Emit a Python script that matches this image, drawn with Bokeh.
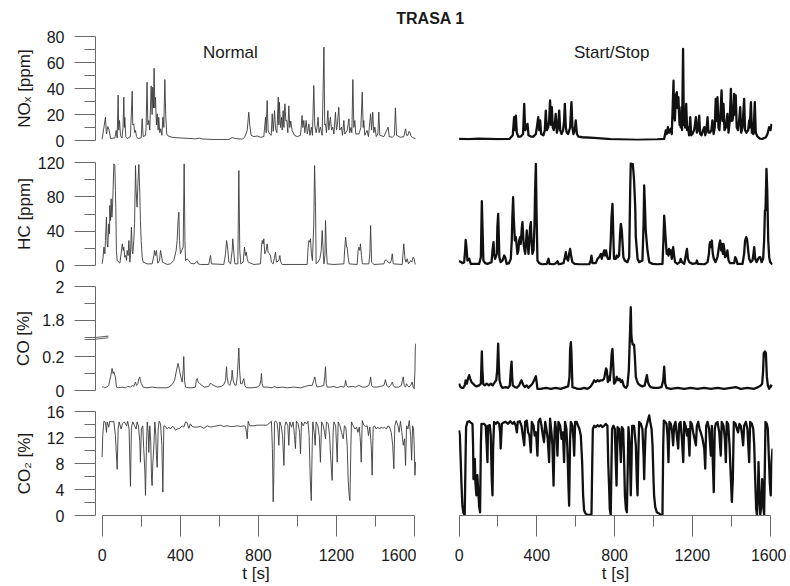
from bokeh.plotting import figure
from bokeh.layouts import column, row
from bokeh.models import Range1d, FixedTicker, Label, Arrow
from bokeh.embed import file_html
from bokeh.resources import INLINE

FONT = "Liberation Sans"

title_text = "TRASA 1"
col_titles = ["Normal", "Start/Stop"]
y_labels = ["NOₓ [ppm]", "HC [ppm]", "CO [%]", "CO₂ [%]"]
x_label = "t [s]"
x_ticks = [0, 400, 800, 1200, 1600]
x_minor = [200, 600, 1000, 1400]
nox_ticks = [0, 20, 40, 60, 80]
nox_minor = [10, 30, 50, 70]
hc_ticks = [0, 40, 80, 120]
hc_minor = [20, 60, 100]
co_ticks = [0, 0.2, 1.8, 2.0]
co_tick_labels = ["0", "0.2", "1.8", "2"]
co_minor = [0.1, 1.9]
co2_ticks = [0, 4, 8, 12, 16]
co2_minor = [2, 6, 10, 14]
# broken CO axis: lower segment 0..0.306, upper segment 1.694..2.0
co_break_low = 0.306
co_break_high = 1.694

# ---------------- data (t [s], value) ----------------
nox_normal = [(0,1.0),(17,17.9),(22,5),(29,10.8),(36,8),(43,1.5),(65,2),(72,7.7),(77,2),(82,35),(85,8),(89,15.4),(94,4),(102,2),(107,10),(111,33.3),(114,10),(116,17.9),(121,3),(128,1.5),(145,3),(154,37.9),(157,12),(162,12.8),(167,6),(171,7.7),(176,3),(183,1.5),(200,2),(205,16.7),(210,3),(222,4),(225,10),(230,44.9),(234,12),(239,15.4),(244,8),(251,42),(256,20),(259,41),(263,25),(266,55.6),(270,25),(273,33.3),(278,12),(282,20.5),(287,8),(290,17.9),(295,6),(300,9),(306,4),(311,17.9),(316,10),(321,46.9),(326,18),(331,5),(338,3.5),(358,2.5),(393,2),(478,1.3),(500,1.8),(512,1.2),(563,0.8),(649,0.8),(666,2.2),(683,1.5),(717,1),(730,2.5),(743,7.7),(751,21.8),(756,12),(763,4),(777,3),(794,3.5),(811,2.5),(828,3),(837,17.9),(840,6),(845,30.8),(850,8),(857,5),(866,4),(871,20.5),(876,7),(883,23),(888,9),(895,6),(902,33.3),(905,12),(908,29.5),(913,10),(919,17.9),(922,8),(927,23),(931,10),(936,28.2),(941,15),(946,15.4),(951,6),(956,26.7),(961,10),(966,15),(973,7.7),(985,4),(999,3),(1016,4),(1024,19.2),(1028,10),(1033,15.4),(1038,6),(1045,15.4),(1051,5),(1059,12.8),(1064,4),(1072,10.3),(1077,4),(1084,42.3),(1089,12),(1096,6),(1101,10),(1106,17.9),(1111,6),(1118,10.3),(1127,4),(1136,71.8),(1140,12),(1144,12.8),(1149,6),(1156,23),(1161,8),(1169,17.9),(1175,8),(1181,10.3),(1187,5),(1195,21.8),(1200,8),(1205,12),(1212,25.6),(1217,8),(1226,10.3),(1231,4),(1238,15.4),(1243,5),(1255,7.7),(1264,16.7),(1268,6),(1274,10),(1279,6),(1284,46.9),(1289,10),(1294,15.4),(1299,5),(1315,5),(1325,10),(1332,37.2),(1337,10),(1340,15.4),(1345,4),(1357,7.7),(1364,3),(1375,20.5),(1380,8),(1386,21.8),(1391,6),(1397,10.3),(1404,3),(1412,5),(1417,21.8),(1422,4),(1443,3),(1465,10.3),(1470,3),(1486,2.5),(1497,4),(1502,25.1),(1508,4),(1528,2.5),(1545,3),(1554,9),(1559,4),(1566,4),(1571,7),(1576,6.4),(1581,3.5),(1588,2.5),(1605,1.3)]

nox_startstop = [(0,1.2),(50,1.0),(100,1.5),(150,1.2),(200,1.0),(260,1.3),(276,4),(283,17.9),(288,8),(292,19.2),(297,6),(304,3),(317,3),(329,5),(335,28.2),(340,8),(347,10),(352,12.8),(357,4),(369,3),(382,3),(395,5),(400,10),(407,17.9),(412,8),(417,15.4),(422,5),(434,4),(441,8),(446,23),(451,8),(458,10),(463,15),(468,30.8),(473,12),(477,25.6),(482,10),(487,8),(492,12),(497,20.5),(503,6),(509,10),(515,23),(520,8),(527,5),(535,8),(540,15),(544,28.2),(549,10),(554,6),(561,5),(571,10),(578,29.5),(583,10),(588,5),(595,8),(600,15.4),(606,5),(614,3),(635,2.5),(695,2),(780,1),(917,0.5),(1020,0.8),(1055,1.3),(1063,7.7),(1068,5),(1074,10.3),(1080,6),(1089,9),(1094,5),(1103,46),(1106,20),(1110,15.4),(1115,35),(1120,37.2),(1123,25),(1128,33.3),(1134,12),(1137,15.4),(1140,10),(1144,25.6),(1147,8),(1152,70.5),(1156,12),(1159,15.4),(1163,10),(1168,28.2),(1173,8),(1178,10.3),(1183,4),(1189,17.9),(1194,4),(1200,5),(1209,8),(1218,17.9),(1223,6),(1228,7.7),(1235,19.2),(1240,5),(1247,4),(1255,8),(1261,10.3),(1266,4),(1272,8),(1278,17.9),(1283,6),(1290,6),(1298,8),(1303,15.4),(1309,5),(1315,10),(1320,32),(1324,15),(1329,33.3),(1334,10),(1339,8),(1344,20),(1350,38.5),(1355,15),(1360,28.2),(1365,8),(1372,10),(1380,20.5),(1386,6),(1392,15),(1398,39.7),(1403,15),(1406,15.4),(1411,20),(1415,35.9),(1418,20),(1423,34.6),(1428,10),(1435,8),(1440,15),(1446,25.6),(1451,6),(1458,10),(1466,32),(1471,8),(1478,6),(1487,8),(1492,15.4),(1495,10),(1501,29.5),(1506,6),(1514,5),(1521,29.5),(1526,6),(1535,3),(1547,1.5),(1561,1.3),(1578,2.5),(1586,5),(1595,10.3),(1602,8),(1607,12.8)]

hc_normal = [(0,1.9),(5,9.7),(9,21.4),(14,13.6),(17,29.1),(22,56.3),(26,25.2),(29,21.4),(34,48.5),(38,36.9),(39,69.9),(43,52.4),(46,77.7),(50,56.3),(53,68.0),(56,87.4),(60,118.4),(65,116.5),(68,87.4),(70,68.0),(73,17.5),(77,5.8),(91,2.7),(97,13.6),(103,25.2),(108,17.5),(111,21.4),(116,9.7),(120,11.6),(125,5.8),(128,17.5),(133,11.6),(137,29.1),(142,3.9),(145,11.6),(150,44.7),(154,17.5),(157,13.6),(162,29.1),(166,48.5),(171,116.5),(174,87.4),(179,68.0),(183,95.1),(188,117.7),(193,83.5),(196,52.4),(200,29.1),(205,9.7),(210,3.9),(231,1.9),(256,1.9),(265,11.6),(268,17.5),(273,11.6),(278,17.5),(285,2.7),(294,5.8),(299,17.5),(304,11.6),(309,3.9),(333,1.2),(350,1.9),(367,5.8),(379,17.5),(384,29.1),(389,52.4),(393,62.1),(396,29.1),(401,13.6),(408,17.5),(415,21.4),(420,118.4),(424,29.1),(427,5.8),(435,7.8),(444,5.8),(453,2.7),(470,1.9),(482,3.9),(487,5.0),(492,1.9),(504,1.2),(546,1.2),(555,11.6),(560,1.9),(623,1.2),(632,13.6),(637,29.1),(640,25.2),(644,17.5),(649,3.9),(658,1.9),(666,17.5),(669,31.1),(675,13.6),(680,1.9),(695,1.9),(700,110.7),(705,17.5),(710,1.9),(722,3.9),(729,21.4),(734,11.6),(738,15.5),(743,7.8),(748,3.9),(777,1.2),(811,1.9),(816,21.4),(820,29.1),(825,25.2),(828,31.1),(833,13.6),(840,17.5),(845,25.2),(850,15.5),(857,13.6),(862,11.6),(867,3.9),(876,1.9),(883,9.7),(888,15.5),(893,3.9),(905,5.8),(910,11.6),(915,3.9),(922,1.2),(1050,1.2),(1055,21.4),(1059,29.1),(1064,27.2),(1067,31.1),(1072,13.6),(1077,5.8),(1084,48.5),(1088,116.5),(1093,68.0),(1096,1.9),(1105,3.9),(1115,7.8),(1122,17.5),(1127,40.8),(1132,17.5),(1136,1.9),(1141,11.6),(1144,52.4),(1148,21.4),(1153,1.9),(1187,1.2),(1238,1.9),(1243,21.4),(1247,33.0),(1252,21.4),(1255,21.4),(1260,9.7),(1265,1.9),(1306,1.2),(1311,17.5),(1315,21.4),(1320,17.5),(1323,25.2),(1328,11.6),(1333,1.9),(1366,1.9),(1371,13.6),(1375,46.6),(1380,3.9),(1392,1.2),(1443,1.9),(1448,5.8),(1455,6.6),(1464,3.9),(1474,2.7),(1481,5.8),(1486,13.6),(1491,1.9),(1537,1.2),(1542,17.5),(1545,25.2),(1551,7.8),(1556,3.9),(1562,7.8),(1569,1.9),(1580,5.8),(1586,3.9),(1593,9.7),(1598,7.8),(1603,1.2)]

hc_startstop = [(0,5.0),(9,4.3),(17,2.7),(26,3.5),(31,17.5),(34,29.9),(38,21.4),(43,5.8),(52,7.8),(60,1.9),(103,1.9),(112,9.7),(117,74.9),(120,48.5),(125,5.8),(134,2.7),(146,1.9),(167,3.9),(172,17.5),(177,27.2),(180,13.6),(185,7.8),(194,13.6),(197,44.7),(201,60.2),(204,36.9),(207,9.7),(214,3.9),(223,5.8),(232,11.6),(237,9.7),(245,1.9),(257,2.7),(266,7.8),(271,29.1),(274,56.3),(278,79.6),(281,56.3),(287,29.1),(292,33.0),(297,21.4),(300,13.6),(305,17.5),(309,29.1),(314,33.0),(317,25.2),(323,44.7),(326,50.5),(331,29.1),(334,21.4),(340,13.6),(345,29.1),(348,40.8),(352,29.1),(357,13.6),(362,29.1),(365,44.7),(369,50.5),(372,33.0),(377,13.6),(383,17.5),(388,48.5),(391,87.4),(395,118.4),(398,68.0),(403,5.8),(412,2.7),(429,1.2),(451,1.9),(460,7.8),(465,1.9),(485,1.2),(497,2.7),(506,5.0),(513,1.2),(537,2.7),(544,9.7),(549,15.5),(554,7.8),(561,5.8),(566,13.6),(571,19.4),(576,11.6),(583,3.9),(595,1.9),(617,1.2),(669,1.2),(677,5.8),(681,11.6),(686,2.7),(703,2.7),(712,7.8),(720,9.7),(726,11.6),(729,13.6),(734,7.8),(741,13.6),(746,17.5),(751,11.6),(756,17.5),(762,9.7),(767,7.8),(775,7.8),(780,29.1),(784,56.3),(789,71.8),(794,29.1),(797,7.8),(806,7.8),(811,11.6),(816,9.7),(823,11.6),(828,36.9),(832,48.5),(837,40.8),(840,29.1),(845,9.7),(852,5.8),(866,3.9),(875,9.7),(880,87.4),(883,119.2),(888,118.4),(893,118.4),(897,108.7),(900,99.0),(906,68.0),(909,33.0),(918,7.8),(926,3.9),(943,5.8),(949,48.5),(952,93.2),(955,75.7),(960,40.8),(966,25.2),(969,17.5),(978,3.9),(995,1.9),(1020,1.2),(1046,1.9),(1051,29.1),(1055,58.2),(1060,40.8),(1063,29.1),(1068,13.6),(1072,17.5),(1077,11.6),(1080,19.4),(1086,13.6),(1089,17.5),(1094,7.8),(1101,21.4),(1106,11.6),(1111,3.9),(1123,1.9),(1135,3.9),(1140,7.8),(1146,3.9),(1158,1.9),(1166,11.6),(1172,19.4),(1177,7.8),(1184,3.9),(1201,1.9),(1220,2.7),(1223,5.8),(1228,1.9),(1261,1.2),(1278,3.9),(1285,13.6),(1288,23.3),(1291,27.2),(1296,21.4),(1300,29.1),(1305,13.6),(1310,7.8),(1319,3.9),(1329,9.7),(1334,17.5),(1339,25.2),(1343,29.1),(1348,17.5),(1351,25.2),(1357,13.6),(1360,25.2),(1365,17.5),(1368,9.7),(1375,11.6),(1380,17.5),(1386,5.8),(1394,2.7),(1415,2.7),(1420,9.7),(1425,7.8),(1432,1.9),(1458,1.9),(1466,13.6),(1471,29.1),(1477,33.0),(1482,29.1),(1487,17.5),(1492,7.8),(1500,3.9),(1509,5.8),(1514,13.6),(1518,21.4),(1523,7.8),(1530,3.9),(1538,7.8),(1544,9.7),(1549,9.7),(1556,3.9),(1564,7.8),(1569,29.1),(1573,64.1),(1576,64.1),(1581,112.6),(1585,87.4),(1590,29.1),(1595,9.7),(1600,3.9),(1612,1.2)]

co_normal = [(0,0.02),(5,0.024),(12,0.016),(22,0.02),(29,0.024),(34,0.03),(39,0.06),(43,0.08),(48,0.11),(51,0.13),(56,0.10),(60,0.11),(65,0.09),(68,0.08),(73,0.02),(85,0.016),(102,0.02),(120,0.016),(131,0.024),(145,0.02),(155,0.03),(162,0.024),(167,0.04),(171,0.05),(176,0.03),(183,0.04),(188,0.07),(193,0.08),(196,0.06),(201,0.04),(210,0.02),(230,0.016),(256,0.02),(282,0.016),(307,0.016),(330,0.016),(342,0.02),(359,0.036),(371,0.06),(381,0.12),(389,0.16),(396,0.12),(403,0.08),(410,0.05),(415,0.12),(418,0.20),(422,0.06),(427,0.02),(444,0.016),(461,0.016),(478,0.02),(482,0.06),(487,0.07),(492,0.05),(500,0.04),(511,0.03),(524,0.02),(546,0.024),(555,0.044),(562,0.036),(572,0.03),(589,0.02),(610,0.024),(623,0.034),(632,0.06),(637,0.14),(640,0.08),(646,0.04),(654,0.03),(663,0.07),(666,0.12),(671,0.06),(678,0.034),(686,0.03),(692,0.08),(698,0.20),(700,0.25),(704,0.12),(709,0.04),(717,0.04),(722,0.06),(726,0.07),(731,0.03),(739,0.016),(768,0.016),(794,0.02),(807,0.03),(813,0.06),(816,0.10),(819,0.04),(825,0.02),(845,0.02),(871,0.016),(883,0.024),(896,0.016),(922,0.02),(948,0.016),(982,0.02),(1016,0.016),(1042,0.024),(1059,0.03),(1076,0.03),(1084,0.06),(1089,0.08),(1095,0.04),(1101,0.02),(1118,0.024),(1135,0.03),(1140,0.08),(1144,0.14),(1148,0.04),(1153,0.02),(1170,0.02),(1187,0.024),(1204,0.016),(1221,0.024),(1238,0.02),(1243,0.03),(1247,0.06),(1252,0.03),(1259,0.02),(1281,0.024),(1298,0.02),(1315,0.03),(1332,0.02),(1349,0.02),(1366,0.03),(1371,0.05),(1375,0.08),(1380,0.03),(1388,0.02),(1409,0.02),(1426,0.024),(1443,0.03),(1448,0.05),(1451,0.064),(1457,0.03),(1468,0.02),(1477,0.03),(1482,0.04),(1486,0.05),(1491,0.03),(1498,0.02),(1519,0.02),(1533,0.03),(1538,0.06),(1542,0.08),(1547,0.03),(1554,0.02),(1559,0.04),(1564,0.03),(1571,0.02),(1580,0.03),(1588,0.05),(1593,0.02),(1598,0.01),(1602,0.12),(1604,0.26),(1607,0.276)]

co_startstop = [(0,0.04),(5,0.024),(12,0.016),(22,0.016),(29,0.03),(34,0.06),(40,0.04),(46,0.07),(52,0.09),(57,0.07),(64,0.05),(72,0.04),(81,0.03),(91,0.024),(103,0.03),(112,0.04),(117,0.23),(120,0.12),(124,0.04),(132,0.03),(142,0.04),(153,0.03),(163,0.04),(173,0.03),(184,0.05),(191,0.06),(196,0.12),(201,0.276),(204,0.16),(208,0.06),(215,0.03),(223,0.016),(240,0.02),(252,0.016),(261,0.03),(266,0.12),(270,0.17),(273,0.08),(276,0.03),(287,0.02),(297,0.016),(309,0.03),(316,0.05),(321,0.06),(326,0.044),(331,0.03),(338,0.02),(348,0.03),(357,0.016),(369,0.03),(377,0.04),(386,0.06),(395,0.084),(400,0.04),(403,0.01),(420,0.01),(446,0.016),(472,0.01),(497,0.016),(523,0.01),(549,0.02),(561,0.024),(568,0.08),(571,0.24),(575,0.284),(578,0.22),(583,0.02),(595,0.016),(609,0.01),(626,0.01),(643,0.016),(660,0.01),(669,0.016),(677,0.024),(686,0.04),(695,0.06),(703,0.05),(712,0.06),(720,0.054),(729,0.06),(737,0.06),(746,0.07),(751,0.10),(756,0.13),(760,0.12),(765,0.05),(770,0.08),(775,0.06),(780,0.12),(785,0.22),(789,0.244),(794,0.12),(797,0.04),(804,0.05),(811,0.08),(818,0.06),(825,0.07),(832,0.05),(839,0.06),(846,0.03),(852,0.02),(859,0.016),(866,0.03),(873,0.12),(878,0.30),(881,1.80),(883,1.878),(886,1.72),(888,0.30),(893,0.27),(900,0.27),(904,0.20),(909,0.08),(914,0.06),(921,0.04),(931,0.03),(943,0.024),(955,0.03),(960,0.06),(966,0.09),(971,0.05),(978,0.03),(986,0.02),(1003,0.016),(1024,0.016),(1041,0.02),(1050,0.06),(1055,0.14),(1060,0.04),(1067,0.016),(1089,0.01),(1123,0.016),(1158,0.01),(1192,0.016),(1226,0.01),(1261,0.016),(1295,0.01),(1329,0.016),(1363,0.01),(1398,0.016),(1423,0.02),(1449,0.01),(1483,0.016),(1518,0.01),(1538,0.02),(1552,0.03),(1559,0.04),(1564,0.12),(1567,0.22),(1573,0.23),(1578,0.22),(1583,0.08),(1588,0.03),(1595,0.01),(1603,0.03),(1612,0.024)]

co2_normal = [(0,9.0),(3,12.3),(9,14.5),(17,14.3),(22,12.8),(26,14.4),(34,13.6),(39,14.5),(51,14.4),(60,14.5),(68,12.3),(77,7.1),(82,13.3),(87,14.4),(97,13.3),(104,14.1),(114,14.4),(125,13.8),(131,14.5),(138,13.3),(145,4.5),(150,13.6),(157,14.4),(166,13.8),(174,13.3),(179,14.4),(186,13.8),(193,11.3),(196,8.2),(201,13.3),(208,13.8),(213,10.3),(219,6.7),(222,3.1),(227,10.8),(231,14.4),(236,12.8),(239,9.7),(244,13.8),(249,11.3),(253,5.6),(256,4.6),(260,8.2),(265,10.8),(270,14.4),(275,12.3),(278,9.2),(282,7.4),(287,13.3),(292,14.5),(299,14.1),(306,10.8),(311,3.6),(316,13.8),(324,13.7),(333,13.3),(342,13.6),(350,13.3),(359,13.7),(367,13.6),(376,13.1),(384,13.3),(396,13.4),(410,13.8),(418,13.6),(427,14.4),(435,14.3),(444,13.4),(452,14.1),(461,13.7),(470,13.6),(487,13.6),(504,13.7),(521,13.4),(538,13.8),(555,13.6),(572,13.7),(589,13.8),(606,13.9),(623,13.7),(640,13.8),(657,13.7),(674,13.7),(692,13.8),(709,13.7),(726,13.8),(734,13.7),(739,12.8),(743,11.8),(748,14.5),(756,13.8),(777,13.8),(794,13.9),(811,13.9),(828,13.9),(845,13.9),(859,14.3),(867,14.5),(872,10.3),(876,2.1),(879,5.6),(883,14.4),(889,14.5),(896,14.3),(901,12.8),(905,10.8),(910,14.4),(917,13.8),(924,12.3),(931,7.7),(936,13.8),(942,14.4),(951,13.8),(956,10.8),(961,14.4),(970,13.6),(978,14.4),(985,12.3),(990,10.3),(995,14.5),(1004,14.1),(1011,12.8),(1016,9.5),(1021,14.4),(1030,13.8),(1038,14.4),(1047,14.1),(1054,14.5),(1060,12.3),(1066,5.6),(1071,2.3),(1076,10.8),(1079,14.4),(1086,12.8),(1091,10.8),(1096,14.4),(1105,13.8),(1112,12.3),(1118,8.2),(1124,14.4),(1130,14.1),(1139,12.8),(1144,11.8),(1149,14.4),(1158,14.1),(1165,12.3),(1170,9.2),(1175,6.7),(1178,5.4),(1183,12.8),(1187,14.4),(1196,13.8),(1204,8.2),(1209,14.4),(1218,13.8),(1226,12.8),(1235,11.8),(1241,13.8),(1248,13.6),(1255,10.8),(1260,5.6),(1265,3.1),(1269,2.3),(1274,10.8),(1277,14.4),(1286,13.8),(1295,13.3),(1303,13.6),(1310,12.8),(1317,13.6),(1323,11.3),(1327,8.2),(1332,14.6),(1340,13.9),(1349,13.7),(1358,13.8),(1364,12.3),(1371,13.6),(1378,10.8),(1383,6.2),(1388,13.6),(1395,13.8),(1404,13.3),(1412,13.6),(1421,13.3),(1429,13.6),(1438,13.4),(1446,13.6),(1455,13.3),(1464,13.8),(1472,13.6),(1481,12.8),(1488,10.8),(1494,7.2),(1499,13.8),(1506,14.6),(1515,13.8),(1521,12.8),(1528,14.5),(1535,12.8),(1542,10.8),(1549,11.8),(1554,7.7),(1559,13.8),(1566,13.3),(1573,14.6),(1580,12.3),(1585,8.5),(1590,13.8),(1595,13.3),(1598,10.8),(1602,6.2),(1605,8.2)]

co2_startstop = [(0,13.1),(4,12.3),(7,9.7),(12,5.1),(17,1.5),(22,0.4),(29,0.1),(33,8.2),(36,13.6),(43,14.4),(52,14.5),(60,14.3),(69,14.1),(72,10.8),(74,5.6),(77,8.2),(81,8.7),(84,5.1),(89,3.1),(94,6.2),(98,4.1),(103,1.5),(108,0.5),(112,10.8),(115,14.1),(129,14.1),(137,13.8),(142,10.8),(146,8.2),(149,13.8),(158,13.9),(163,12.3),(168,5.6),(172,3.1),(175,10.3),(180,14.4),(189,14.1),(197,14.4),(206,14.1),(211,12.8),(214,10.3),(220,14.1),(228,14.3),(240,14.4),(252,14.1),(263,14.5),(275,14.1),(283,14.4),(292,13.8),(297,12.8),(302,14.4),(312,14.5),(321,13.8),(328,12.3),(335,10.8),(340,14.4),(348,14.6),(355,12.8),(362,12.3),(369,9.7),(374,14.4),(383,13.8),(389,12.3),(396,12.8),(403,9.2),(408,14.4),(417,14.9),(424,13.8),(431,12.3),(437,11.3),(443,14.4),(449,13.3),(456,11.8),(463,8.2),(468,14.9),(475,12.8),(480,10.8),(486,4.6),(491,12.8),(494,14.4),(501,12.8),(506,9.2),(511,14.4),(520,13.8),(527,11.8),(534,12.8),(540,8.2),(545,14.4),(552,13.3),(557,10.3),(563,4.1),(566,1.5),(571,11.8),(575,14.4),(583,13.8),(588,11.8),(592,9.2),(597,14.4),(605,14.4),(612,13.8),(619,13.3),(626,12.3),(633,8.2),(638,3.1),(643,0.8),(650,0.3),(660,0.1),(671,0.1),(681,0.2),(685,8.2),(688,13.3),(695,13.8),(703,13.6),(712,13.9),(720,13.7),(729,13.9),(737,13.6),(746,13.8),(755,14.1),(763,13.8),(767,8.2),(772,4.1),(775,1.0),(780,0.1),(784,8.2),(787,13.3),(794,13.8),(801,13.3),(806,8.2),(810,4.6),(815,13.6),(823,13.3),(828,10.8),(832,8.2),(837,13.6),(844,13.3),(849,8.2),(853,3.1),(858,1.0),(863,0.5),(868,8.2),(871,13.6),(878,10.8),(883,3.1),(887,8.2),(890,13.8),(900,13.8),(909,10.8),(914,5.6),(918,3.1),(921,8.2),(926,14.4),(935,14.1),(943,13.3),(949,9.2),(952,5.6),(955,9.2),(960,13.3),(969,14.4),(978,15.4),(983,14.4),(990,13.3),(995,10.8),(1000,5.6),(1003,3.1),(1009,1.3),(1017,0.5),(1029,0.3),(1038,0.1),(1046,0.1),(1050,10.8),(1053,14.6),(1060,14.4),(1067,14.1),(1072,12.3),(1077,8.2),(1082,14.4),(1089,14.1),(1096,12.8),(1101,10.8),(1106,13.8),(1113,14.4),(1120,12.3),(1127,10.3),(1132,14.1),(1139,14.4),(1146,11.8),(1153,8.2),(1158,14.4),(1165,13.8),(1172,12.3),(1178,13.3),(1185,9.2),(1190,14.4),(1197,14.1),(1204,12.8),(1211,11.8),(1218,10.8),(1223,13.8),(1230,14.4),(1237,13.3),(1243,12.8),(1252,11.8),(1261,10.3),(1266,7.2),(1271,13.8),(1278,14.4),(1286,13.3),(1295,9.2),(1300,13.8),(1305,8.2),(1310,3.6),(1315,13.3),(1320,14.1),(1329,14.4),(1338,12.8),(1346,9.2),(1351,14.4),(1360,13.8),(1367,11.8),(1372,8.2),(1377,14.4),(1384,14.1),(1391,10.8),(1398,5.6),(1403,2.1),(1408,5.6),(1413,14.4),(1422,14.1),(1429,13.3),(1435,12.8),(1442,14.1),(1449,13.8),(1456,12.3),(1461,10.8),(1466,13.8),(1475,14.4),(1483,13.3),(1492,8.2),(1497,14.4),(1506,14.1),(1513,13.3),(1518,10.8),(1523,5.6),(1528,1.0),(1532,0.1),(1537,3.1),(1540,8.2),(1545,3.1),(1549,0.1),(1554,1.5),(1559,5.6),(1564,1.5),(1569,0.1),(1573,8.2),(1576,14.4),(1583,14.1),(1588,13.3),(1593,9.2),(1598,5.1),(1603,3.1),(1607,8.2),(1612,10.3)]


def co_to_axis(v):
    """Broken CO axis: values above the break are shifted down by the gap."""
    return v if v <= co_break_low else v - (co_break_high - co_break_low)


AXIS_COL = "#6a6a6a"
TEXT_COL = "#1a1a1a"
LEFT_LINE = "#3a3a3a"
RIGHT_LINE = "#111111"

rows_spec = [
    dict(data=(nox_normal, nox_startstop), yr=(0, 80), ticks=nox_ticks, minor=nox_minor,
         fh=104, bt=9, bb=11, label_standoff=10),
    dict(data=(hc_normal, hc_startstop), yr=(0, 120), ticks=hc_ticks, minor=hc_minor,
         fh=103, bt=11, bb=10, label_standoff=1),
    dict(data=(co_normal, co_startstop), yr=(0, co_to_axis(2.0)), ticks=None, minor=None,
         fh=104, bt=11, bb=10, label_standoff=6),
    dict(data=(co2_normal, co2_startstop), yr=(0, 16), ticks=co2_ticks, minor=co2_minor,
         fh=104, bt=11, bb=71, label_standoff=10),
]


def style_axis(ax):
    ax.axis_line_color = AXIS_COL
    ax.axis_line_width = 1
    ax.major_tick_line_color = AXIS_COL
    ax.minor_tick_line_color = AXIS_COL
    ax.major_tick_out = 21
    ax.major_tick_in = 0
    ax.minor_tick_out = 11
    ax.minor_tick_in = 0
    ax.major_label_text_font = FONT
    ax.major_label_text_font_size = "16px"
    ax.major_label_text_color = TEXT_COL
    ax.axis_label_text_font = FONT
    ax.axis_label_text_font_size = "17px"
    ax.axis_label_text_font_style = "normal"
    ax.axis_label_text_color = TEXT_COL


def make_panel(ci, ri):
    spec = rows_spec[ri]
    left = ci == 0
    bottom = ri == 3
    if left:
        xr = Range1d(-34, 1610)
        fw, bl, br = 321, 95, 0
    else:
        xr = Range1d(-3, 1612)
        fw, bl, br = 314, 42, 14
    p = figure(frame_width=fw, frame_height=spec["fh"],
               min_border_left=bl, min_border_right=br,
               min_border_top=spec["bt"], min_border_bottom=spec["bb"],
               x_range=xr, y_range=Range1d(*spec["yr"]),
               x_axis_location="below" if bottom else None,
               y_axis_location="left" if left else None,
               toolbar_location=None, output_backend="svg", title=None)
    p.outline_line_color = None
    p.background_fill_color = "white"
    p.border_fill_color = "white"
    p.grid.visible = False

    pts = spec["data"][ci]
    ts = [a for a, b in pts]
    vs = [b for a, b in pts]
    if ri == 2:
        vs = [co_to_axis(v) for v in vs]
    if left:
        p.line(ts, vs, line_color=LEFT_LINE, line_width=0.9)
    else:
        p.line(ts, vs, line_color=RIGHT_LINE, line_width=2.3, line_join="round")

    if left:
        ax = p.yaxis[0]
        style_axis(ax)
        ax.axis_label = y_labels[ri]
        ax.major_label_standoff = 10
        ax.axis_label_standoff = spec["label_standoff"]
        if ri == 2:
            major = [co_to_axis(v) for v in co_ticks]
            # the two break strokes: outer part drawn as short minor ticks,
            # inner part as slanted strokes inside the frame
            brk = [co_break_low - 0.004, co_break_low + 0.006]
            ax.ticker = FixedTicker(ticks=major,
                                    minor_ticks=[co_to_axis(v) for v in co_minor] + brk)
            ax.major_label_overrides = {m: lab for m, lab in zip(major, co_tick_labels)}
            for yb in brk:
                p.add_layout(Arrow(end=None, x_start=-34, y_start=yb,
                                   x_end=32, y_end=yb + 0.008,
                                   line_color=AXIS_COL, line_width=1.1))
        else:
            ax.ticker = FixedTicker(ticks=spec["ticks"], minor_ticks=spec["minor"])

    if bottom:
        ax = p.xaxis[0]
        style_axis(ax)
        ax.bounds = (0, 1600)
        ax.ticker = FixedTicker(ticks=x_ticks, minor_ticks=x_minor)
        ax.axis_label = x_label
        ax.major_label_standoff = 12
        ax.axis_label_standoff = 0

    if ri == 0:
        lx = 657 if left else 785
        p.add_layout(Label(x=lx, y=68, text=col_titles[ci], text_align="center",
                           text_baseline="middle", text_font=FONT,
                           text_font_size="17px", text_color=TEXT_COL))
    return p


title_fig = figure(width=786, height=27, x_range=Range1d(0, 786), y_range=Range1d(0, 27),
                   min_border=0, x_axis_location=None, y_axis_location=None,
                   toolbar_location=None, output_backend="svg", title=None)
title_fig.outline_line_color = None
title_fig.grid.visible = False
title_fig.add_layout(Label(x=430, y=9.5, text=title_text, text_align="center",
                           text_baseline="middle", text_font=FONT, text_font_size="16px",
                           text_font_style="bold", text_color=TEXT_COL))

rows = [row(make_panel(0, r), make_panel(1, r)) for r in range(4)]
layout = column(title_fig, *rows)

open("out.html", "w").write(file_html(layout, INLINE))
